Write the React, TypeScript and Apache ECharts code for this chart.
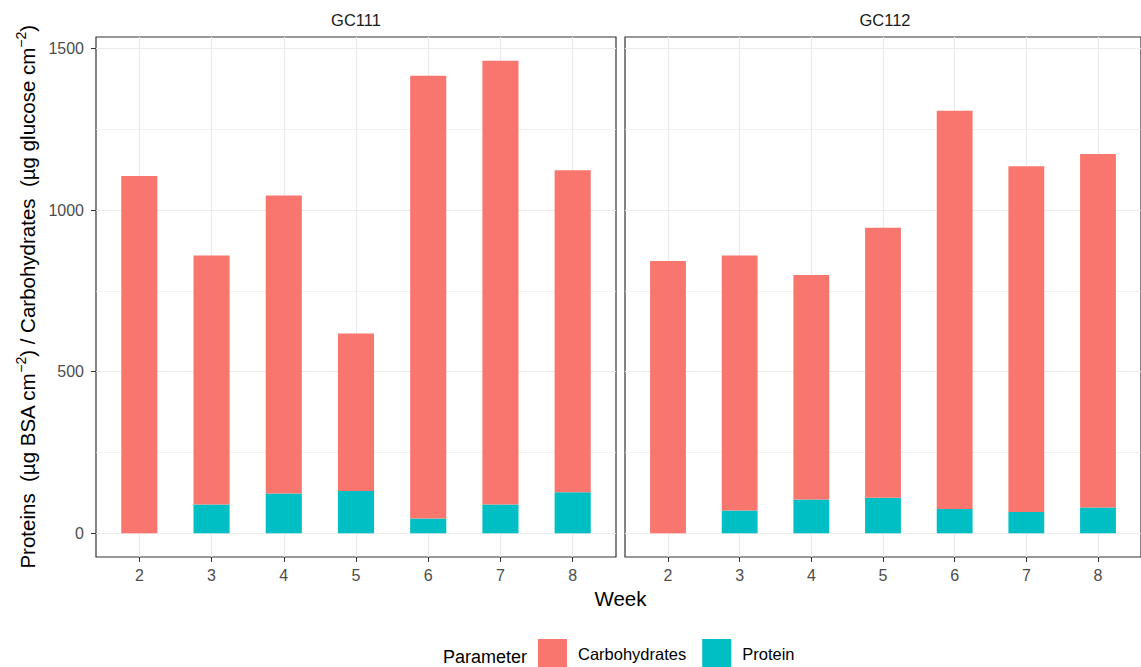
import { useEffect, useRef } from 'react';
import * as echarts from 'echarts';

// Weekly protein and carbohydrate content, faceted by site
const weeks = [2, 3, 4, 5, 6, 7, 8];
const facets = ['GC111', 'GC112'];
const parameters = ['Carbohydrates', 'Protein'];

const gc111Carbohydrates = [1105, 770, 922, 487, 1369, 1373, 996];
const gc111Protein = [0, 89, 123, 131, 46, 89, 127];
const gc112Carbohydrates = [842, 788, 694, 835, 1232, 1069, 1093];
const gc112Protein = [0, 71, 105, 110, 75, 66, 80];

const yTicks = [0, 500, 1000, 1500];
const yMinorTicks = [250, 750, 1250];

const colors: Record<string, string> = {
  Carbohydrates: '#F8766D',
  Protein: '#00BFC4',
};

const FONT = '"Liberation Sans", Arial, Helvetica, sans-serif';

export default function App() {
  const ref = useRef<HTMLDivElement>(null);

  useEffect(() => {
    if (!ref.current) return;
    const chart = echarts.init(ref.current, undefined, { renderer: 'svg' });

    const totals = [
      ...gc111Carbohydrates.map((v, i) => v + gc111Protein[i]),
      ...gc112Carbohydrates.map((v, i) => v + gc112Protein[i]),
    ];
    const top = Math.max(...totals);
    const yMin = -0.05 * top;
    const yMax = top * 1.05;
    const xMin = Math.min(...weeks) - 0.6;
    const xMax = Math.max(...weeks) + 0.6;

    const panelLefts = [96, 625];
    const panelWidth = 520;
    const panelTop = 37;
    const panelHeight = 520;

    const grid = panelLefts.map((left) => ({
      left,
      top: panelTop,
      width: panelWidth,
      height: panelHeight,
      show: true,
      borderColor: '#333333',
      borderWidth: 1.2,
      backgroundColor: 'transparent',
    }));

    const xAxis = panelLefts.map((_, g) => ({
      type: 'value',
      gridIndex: g,
      min: xMin,
      max: xMax,
      axisLine: { show: false, onZero: false },
      axisTick: {
        show: true,
        customValues: weeks,
        length: 5,
        lineStyle: { color: '#333333', width: 1 },
      },
      axisLabel: {
        customValues: weeks,
        fontSize: 16,
        color: '#4D4D4D',
        fontFamily: FONT,
        margin: 10,
        formatter: (v: number) => String(v),
      },
      splitLine: { show: true, lineStyle: { color: '#EBEBEB', width: 1.2 } },
    }));

    const yAxis: any[] = [];
    panelLefts.forEach((_, g) => {
      yAxis.push({
        type: 'value',
        gridIndex: g,
        min: yMin,
        max: yMax,
        axisLine: { show: false, onZero: false },
        axisTick: {
          show: g === 0,
          customValues: yTicks,
          length: 5,
          lineStyle: { color: '#333333', width: 1 },
        },
        axisLabel: {
          show: g === 0,
          customValues: yTicks,
          fontSize: 16,
          color: '#4D4D4D',
          fontFamily: FONT,
          margin: 12,
          formatter: (v: number) => String(v),
        },
        splitLine: { show: true, lineStyle: { color: '#EBEBEB', width: 1.2 } },
      });
      // minor gridlines
      yAxis.push({
        type: 'value',
        gridIndex: g,
        position: 'left',
        min: yMin,
        max: yMax,
        axisLine: { show: false, onZero: false },
        axisTick: { show: false, customValues: yMinorTicks },
        axisLabel: { show: false },
        splitLine: { show: true, lineStyle: { color: '#EDEDED', width: 0.7 } },
      });
    });

    const facetData = [
      { Carbohydrates: gc111Carbohydrates, Protein: gc111Protein },
      { Carbohydrates: gc112Carbohydrates, Protein: gc112Protein },
    ];

    const series: any[] = [];
    facetData.forEach((fd, g) => {
      // Protein sits at the bottom of each stack, carbohydrates above it.
      // The value column comes first so that it is the stacked dimension.
      ['Protein', 'Carbohydrates'].forEach((p) => {
        const vals = (fd as any)[p] as number[];
        series.push({
          type: 'bar',
          name: p,
          xAxisIndex: g,
          yAxisIndex: g * 2,
          stack: facets[g],
          barWidth: '50%',
          itemStyle: { color: colors[p] },
          encode: { x: 1, y: 0 },
          data: weeks.map((w, i) => [vals[i], w]),
        });
      });
    });

    const option: any = {
      animation: false,
      backgroundColor: '#FFFFFF',
      grid,
      xAxis,
      yAxis,
      series,
      legend: {
        data: parameters,
        left: 538,
        top: 639,
        padding: 0,
        itemWidth: 29,
        itemHeight: 29,
        itemGap: 16,
        icon: 'rect',
        selectedMode: false,
        textStyle: {
          fontSize: 16.5,
          color: '#000000',
          fontFamily: FONT,
          padding: [0, 0, 0, 6],
        },
      },
      graphic: [
        ...facets.map((f, g) => ({
          type: 'text',
          x: panelLefts[g] + panelWidth / 2,
          y: 20,
          style: {
            text: f,
            fontSize: 16.5,
            fontFamily: FONT,
            fill: '#1A1A1A',
            align: 'center',
            verticalAlign: 'middle',
          },
        })),
        {
          type: 'text',
          x: (panelLefts[0] + panelLefts[1] + panelWidth) / 2,
          y: 598,
          style: {
            text: 'Week',
            fontSize: 20.5,
            fontFamily: FONT,
            fill: '#000000',
            align: 'center',
            verticalAlign: 'middle',
          },
        },
        {
          type: 'text',
          x: 27,
          y: panelTop + panelHeight / 2,
          rotation: Math.PI / 2,
          style: {
            text:
              '{n|Proteins  (µg BSA cm}{s|−2}{n|) / Carbohydrates  (µg glucose cm}{s|−2}{n|)}',
            fontFamily: FONT,
            fill: '#000000',
            align: 'center',
            verticalAlign: 'middle',
            rich: {
              n: {
                fontSize: 20.5,
                fontFamily: FONT,
                fill: '#000000',
                lineHeight: 26,
              },
              s: {
                fontSize: 14,
                fontFamily: FONT,
                fill: '#000000',
                lineHeight: 12,
                verticalAlign: 'top',
              },
            },
          },
        },
        {
          type: 'text',
          x: 443,
          y: 657,
          style: {
            text: 'Parameter',
            fontSize: 18,
            fontFamily: FONT,
            fill: '#000000',
            align: 'left',
            verticalAlign: 'middle',
          },
        },
      ],
    };

    chart.setOption(option);
    return () => chart.dispose();
  }, []);

  return (
    <div
      ref={ref}
      style={{ position: 'fixed', left: 0, top: 0, width: 1141, height: 667 }}
    />
  );
}
